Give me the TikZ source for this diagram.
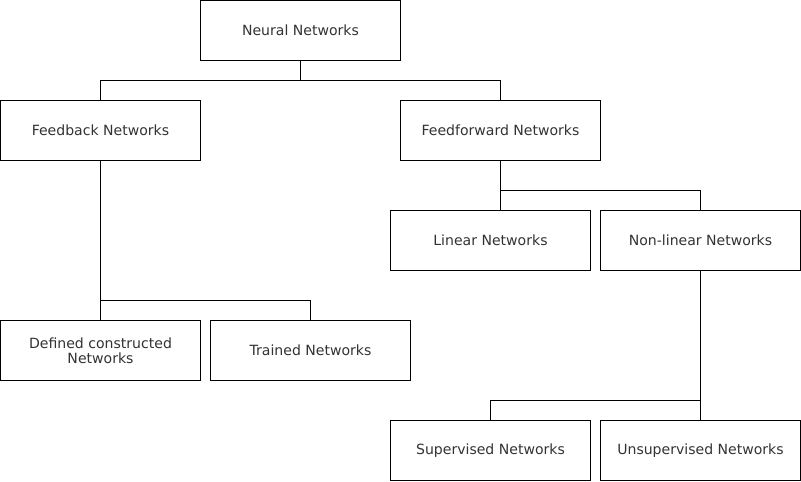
\documentclass[tikz,border=0pt]{standalone}
\usepackage{fontspec}
\setmainfont{DejaVu Sans}
\usepackage{tikz}
\usetikzlibrary{positioning}
\usepackage{xcolor}
\definecolor{textgray}{HTML}{333333}
\definecolor{linegray}{HTML}{000000}

\begin{document}
\begin{tikzpicture}[
    font=\fontsize{10}{11}\selectfont,
    % Estilos de bloques
    netbox/.style={
        rectangle,
        draw=linegray,
        fill=white,
        minimum width=5cm,
        minimum height=1.5cm,
        outer sep=0pt,
        align=center,
        line width=0.7pt,
        text=textgray
    },
    branch/.style={
        draw=linegray,
        line width=0.7pt
    }
]
    \useasboundingbox (-0.0125,0.0125) rectangle (20.0125,-12.0125);

    % ==========================================
    % 1. ROOT
    % ==========================================
    \node[netbox] (neural) at (7.5,-0.75) {Neural Networks};

    % ==========================================
    % 2. FIRST LEVEL
    % ==========================================
    \node[netbox, below=1cm of neural, xshift=-5cm] (feedback) {Feedback Networks};
    \node[netbox, below=1cm of neural, xshift=5cm] (feedforward) {Feedforward Networks};

    % ==========================================
    % 3. FEEDFORWARD BRANCH
    % ==========================================
    \node[netbox, below=1.25cm of feedforward, xshift=-0.25cm] (linear) {Linear Networks};
    \node[netbox, right=0.25cm of linear] (nonlinear) {Non-linear Networks};

    \node[netbox, below=3.75cm of linear] (supervised) {Supervised Networks};
    \node[netbox, right=0.25cm of supervised] (unsupervised) {Unsupervised Networks};

    % ==========================================
    % 4. FEEDBACK BRANCH
    % ==========================================
    \node[netbox, below=4cm of feedback] (defined) {Defined constructed\\Networks};
    \node[netbox, right=0.25cm of defined] (trained) {Trained Networks};

    % ==========================================
    % CONEXIONES
    % ==========================================
    \draw[branch] (neural.south) -- ++(0,-0.5) -| (feedback.north);
    \draw[branch] (neural.south) -- ++(0,-0.5) -| (feedforward.north);

    \draw[branch] (feedforward.south) -- (feedforward.south |- linear.north);
    \draw[branch] (feedforward.south) -- ++(0,-0.75) -| (nonlinear.north);

    \draw[branch] (feedback.south) -- (defined.north);
    \draw[branch] ([yshift=0.5cm]defined.north) -| (trained.north);

    \draw[branch] (nonlinear.south) -- (unsupervised.north);
    \draw[branch] ([yshift=0.5cm]unsupervised.north) -| (supervised.north);

\end{tikzpicture}
\end{document}
